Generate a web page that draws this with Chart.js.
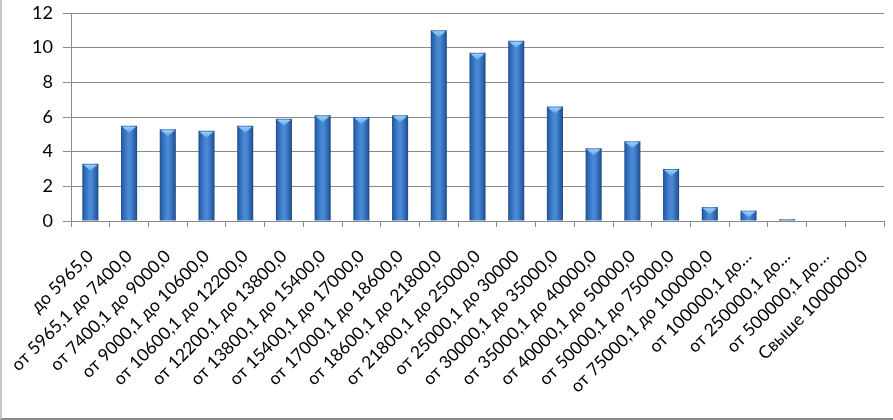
<!DOCTYPE html>
<html>
<head>
<meta charset="utf-8">
<script src="https://cdn.jsdelivr.net/npm/chart.js@4.4.0/dist/chart.umd.min.js"></script>
<style>
  html, body { margin: 0; padding: 0; background: #fff; }
  #wrap { position: relative; width: 893px; height: 420px; box-sizing: border-box;
          border-left: 2px solid #c8c8c8; border-bottom: 2px solid #8a8a8a; }
  canvas { display: block; }
</style>
</head>
<body>
<div id="wrap"><canvas id="c" width="891" height="418"></canvas></div>
<script>
const categories = [
  "до 5965,0",
  "от 5965,1 до 7400,0",
  "от 7400,1 до 9000,0",
  "от 9000,1 до 10600,0",
  "от 10600,1 до 12200,0",
  "от 12200,1 до 13800,0",
  "от 13800,1 до 15400,0",
  "от 15400,1 до 17000,0",
  "от 17000,1 до 18600,0",
  "от 18600,1 до 21800,0",
  "от 21800,1 до 25000,0",
  "от 25000,1 до 30000",
  "от 30000,1 до 35000,0",
  "от 35000,1 до 40000,0",
  "от 40000,1 до 50000,0",
  "от 50000,1 до 75000,0",
  "от 75000,1 до 100000,0",
  "от 100000,1 до…",
  "от 250000,1 до…",
  "от 500000,1 до…",
  "Свыше 1000000,0"
];
const values = [3.3, 5.5, 5.3, 5.2, 5.5, 5.9, 6.1, 6.0, 6.1, 11.0, 9.7, 10.4, 6.6, 4.2, 4.6, 3.0, 0.8, 0.6, 0.1, 0, 0];
const yTicks = [0, 2, 4, 6, 8, 10, 12];

const FONT = "Lato";

const barShading = {
  id: 'barShading',
  beforeDatasetsDraw(chart) {
    const ctx = chart.ctx;
    chart.getDatasetMeta(0).data.forEach(el => {
      const l = el.x - el.width / 2, r = el.x + el.width / 2;
      const g = ctx.createLinearGradient(l, 0, r, 0);
      g.addColorStop(0, '#1d4f8f');
      g.addColorStop(0.15, '#2f69b4');
      g.addColorStop(0.45, '#4a8ad6');
      g.addColorStop(0.6, '#4585d2');
      g.addColorStop(0.88, '#2a5fa6');
      g.addColorStop(1, '#1b467f');
      el.options = Object.assign({}, el.options, { backgroundColor: g });
    });
  },
  afterDatasetsDraw(chart) {
    const ctx = chart.ctx;
    ctx.save();
    chart.getDatasetMeta(0).data.forEach(el => {
      const h = el.base - el.y;
      if (h < 4) return;
      const l = el.x - el.width / 2, r = el.x + el.width / 2;
      const th = Math.min(7, h - 1);
      const g = ctx.createLinearGradient(0, el.y, 0, el.y + th);
      g.addColorStop(0, '#a9d6f7');
      g.addColorStop(1, '#5fa3e6');
      ctx.fillStyle = g;
      ctx.beginPath();
      ctx.moveTo(l + 1, el.y + 1);
      ctx.lineTo(r - 1, el.y + 1);
      ctx.lineTo(el.x, el.y + th);
      ctx.closePath();
      ctx.fill();
    });
    ctx.restore();
  }
};

new Chart(document.getElementById('c'), {
  type: 'bar',
  data: {
    labels: categories,
    datasets: [{
      data: values,
      backgroundColor: '#3a78c8',
      borderWidth: 0,
      categoryPercentage: 1,
      barPercentage: 0.415
    }]
  },
  options: {
    responsive: false,
    animation: false,
    events: [],
    layout: { padding: { top: 13, right: 9, left: 0, bottom: 0 } },
    plugins: { legend: { display: false }, tooltip: { enabled: false } },
    scales: {
      x: {
        grid: { drawOnChartArea: false, drawTicks: true, tickLength: 6, color: '#8a8a8a', offset: true },
        border: { color: '#8a8a8a', width: 1 },
        ticks: {
          autoSkip: false, maxRotation: 45, minRotation: 45,
          color: '#000', padding: 19,
          font: { family: FONT, size: 17.5 }
        },
        afterFit(scale) { scale.height = 197; scale.paddingLeft = 0; scale.paddingRight = 0; }
      },
      y: {
        min: 0, max: 12,
        afterBuildTicks(scale) { scale.ticks = yTicks.map(v => ({ value: v })); },
        grid: { color: '#8a8a8a', lineWidth: 1, tickLength: 8, drawTicks: true },
        border: { color: '#8a8a8a', width: 1 },
        ticks: {
          color: '#000', padding: 10,
          font: { family: FONT, size: 18 }
        },
        afterFit(scale) { scale.width = 69; scale.paddingTop = 0; scale.paddingBottom = 0; }
      }
    }
  },
  plugins: [barShading]
});
</script>
</body>
</html>
